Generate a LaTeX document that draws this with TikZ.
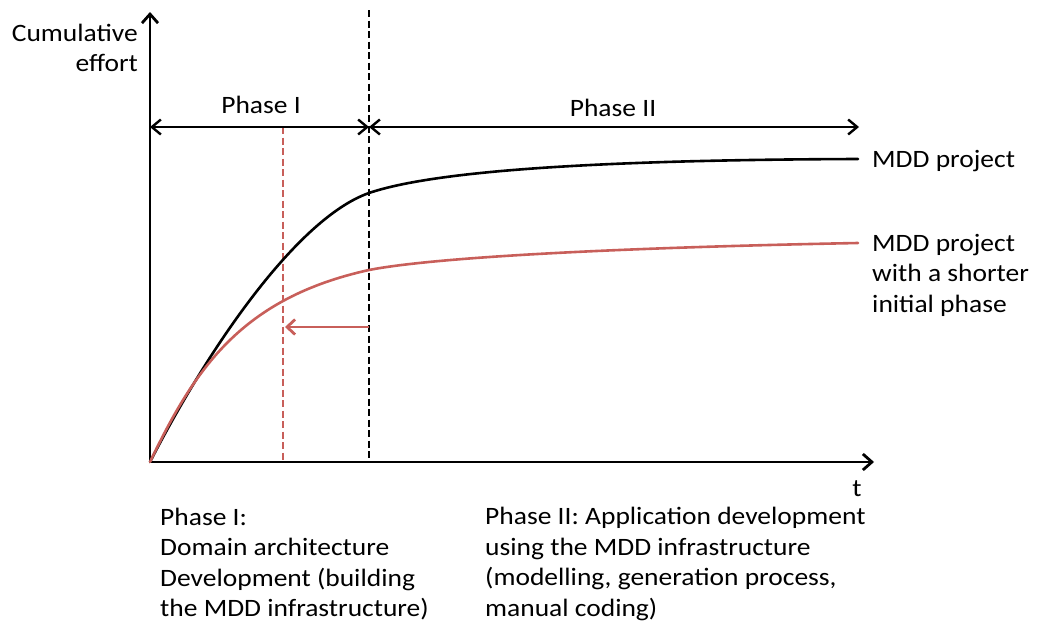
\documentclass[tikz,border=0pt]{standalone}
\usepackage{fontspec}
\setmainfont{Carlito}[FakeStretch=1.1]
\usepackage{xcolor}
\usetikzlibrary{arrows.meta}
\definecolor{curvered}{RGB}{200,95,90}

\begin{document}
\begin{tikzpicture}[x=1pt,y=-1pt,
  lbl/.style={inner sep=0pt,font=\fontsize{25}{30.5}\selectfont},
  axis/.style={line width=2.8pt,-{Straight Barb[length=9pt,width=16pt]}},
  phase/.style={line width=2.4pt,{Straight Barb[length=9pt,width=15pt]}-{Straight Barb[length=9pt,width=15pt]}},
  curve/.style={line width=2.6pt,line cap=round}]
 \useasboundingbox (0,0) rectangle (1039,624);
 % axes
 \coordinate (O) at (150,462);
 \coordinate (ytop) at (150,12);
 \coordinate (xend) at (874,462);
 \draw[axis] (O)--(ytop);
 \draw[axis] (O)--(xend);
 \node[lbl,anchor=east,align=right] (ylab) at (138,48) {Cumulative\\effort};
 \node[lbl] (tlab) at (857,489) {t};
 % phase borders
 \coordinate (dtop) at (369,10);
 \coordinate (dbot) at (369,462);
 \coordinate (rtop) at (283,127);
 \coordinate (rbot) at (283,462);
 \draw[line width=2.4pt,dash pattern=on 7pt off 3.5pt] (dtop)--(dbot);
 \draw[curvered,line width=2.4pt,dash pattern=on 7pt off 3.5pt] (rtop)--(rbot);
 % phase arrows
 \coordinate (pa) at (150,127);
 \coordinate (pb) at (369,127);
 \coordinate (pc) at (859,127);
 \draw[phase] (pa)--(pb);
 \draw[phase] (pb)--(pc);
 \node[lbl] (ph1) at (261,105) {Phase I};
 \node[lbl] (ph2) at (613,108) {Phase II};
 % curves
 \draw[curve] (O) .. controls (210,345) and (298,218) .. (369,193)
                  .. controls (425,174) and (560,160) .. (858,159);
 \draw[curve,curvered] (O) .. controls (195,368) and (242,298) .. (369,270)
                  .. controls (430,258) and (600,248) .. (858,243);
 \node[lbl,anchor=west] (mdd) at (872,161) {MDD project};
 \node[lbl,anchor=west,align=left] (mddshort) at (872,275) {MDD project\\with a shorter\\initial phase};
 % shift arrow
 \coordinate (sa) at (369,327);
 \coordinate (sb) at (285,327);
 \draw[curvered,line width=2.8pt,-{Straight Barb[length=8pt,width=15pt]}] (sa)--(sb);
 % descriptions
 \node[lbl,anchor=west,align=left] (desc1) at (160,564) {Phase I:\\Domain architecture\\Development (building\\the MDD infrastructure)};
 \node[lbl,anchor=west,align=left] (desc2) at (485,564) {Phase II: Application development\\using the MDD infrastructure\\(modelling, generation process,\\manual coding)};
\end{tikzpicture}
\end{document}
